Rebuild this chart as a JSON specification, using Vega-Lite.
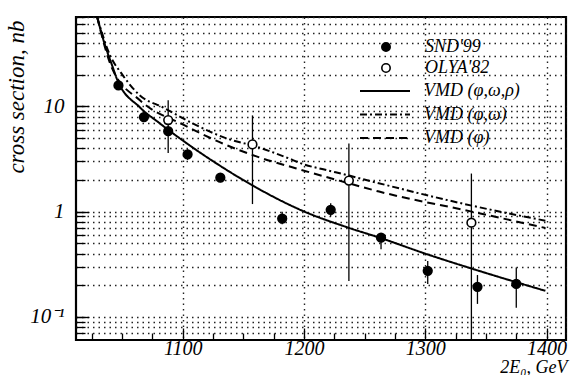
{
  "$schema": "https://vega.github.io/schema/vega-lite/v6.json",
  "width": 490,
  "height": 323,
  "autosize": "none",
  "padding": {"left": 76, "top": 17, "right": 6, "bottom": 35},
  "background": "white",
  "config": {
    "view": {"stroke": "black", "strokeWidth": 2.2},
    "font": "Liberation Serif",
    "axis": {"domain": false, "labelFont": "Liberation Serif", "labelFontStyle": "italic", "labelFontSize": 21, "labelColor": "black", "titleFont": "Liberation Serif", "titleFontStyle": "italic", "titleFontWeight": "normal", "titleFontSize": 22, "titleColor": "black", "tickColor": "black", "tickWidth": 1.3, "gridColor": "#222", "gridDash": [1.5, 4], "gridWidth": 1.4},
    "legend": {"labelFont": "Liberation Serif", "labelFontStyle": "italic", "labelFontSize": 18, "labelColor": "black", "title": null}
  },
  "resolve": {"axis": {"x": "independent", "y": "independent"}},
  "datasets": {
    "curves": [
      {"model": "VMD (φ,ω,ρ)", "x": 1029.5, "y": 70},
      {"model": "VMD (φ,ω,ρ)", "x": 1035.9, "y": 38.1},
      {"model": "VMD (φ,ω,ρ)", "x": 1041.7, "y": 24.6},
      {"model": "VMD (φ,ω,ρ)", "x": 1045.8, "y": 18.1},
      {"model": "VMD (φ,ω,ρ)", "x": 1064.7, "y": 9.78},
      {"model": "VMD (φ,ω,ρ)", "x": 1081.1, "y": 6.89},
      {"model": "VMD (φ,ω,ρ)", "x": 1105.8, "y": 4.25},
      {"model": "VMD (φ,ω,ρ)", "x": 1132.9, "y": 2.63},
      {"model": "VMD (φ,ω,ρ)", "x": 1159.2, "y": 1.73},
      {"model": "VMD (φ,ω,ρ)", "x": 1198.6, "y": 1.02},
      {"model": "VMD (φ,ω,ρ)", "x": 1237.2, "y": 0.70},
      {"model": "VMD (φ,ω,ρ)", "x": 1263.5, "y": 0.56},
      {"model": "VMD (φ,ω,ρ)", "x": 1299.7, "y": 0.40},
      {"model": "VMD (φ,ω,ρ)", "x": 1339.9, "y": 0.284},
      {"model": "VMD (φ,ω,ρ)", "x": 1399, "y": 0.177},
      {"model": "VMD (φ,ω)", "x": 1029.5, "y": 70},
      {"model": "VMD (φ,ω)", "x": 1040, "y": 30.6},
      {"model": "VMD (φ,ω)", "x": 1049.9, "y": 20.2},
      {"model": "VMD (φ,ω)", "x": 1064.7, "y": 12.7},
      {"model": "VMD (φ,ω)", "x": 1083.6, "y": 9.78},
      {"model": "VMD (φ,ω)", "x": 1111.5, "y": 6.59},
      {"model": "VMD (φ,ω)", "x": 1138.6, "y": 4.85},
      {"model": "VMD (φ,ω)", "x": 1157.5, "y": 4.25},
      {"model": "VMD (φ,ω)", "x": 1185.5, "y": 3.27},
      {"model": "VMD (φ,ω)", "x": 1200.2, "y": 2.8},
      {"model": "VMD (φ,ω)", "x": 1216.7, "y": 2.51},
      {"model": "VMD (φ,ω)", "x": 1237.2, "y": 2.2},
      {"model": "VMD (φ,ω)", "x": 1259.4, "y": 1.89},
      {"model": "VMD (φ,ω)", "x": 1338.3, "y": 1.14},
      {"model": "VMD (φ,ω)", "x": 1399, "y": 0.82},
      {"model": "VMD (φ)", "x": 1029.5, "y": 70},
      {"model": "VMD (φ)", "x": 1041.7, "y": 23.0},
      {"model": "VMD (φ)", "x": 1064.7, "y": 11.4},
      {"model": "VMD (φ)", "x": 1101.6, "y": 6.59},
      {"model": "VMD (φ)", "x": 1132.9, "y": 4.44},
      {"model": "VMD (φ)", "x": 1163.3, "y": 3.27},
      {"model": "VMD (φ)", "x": 1193.7, "y": 2.57},
      {"model": "VMD (φ)", "x": 1229, "y": 1.97},
      {"model": "VMD (φ)", "x": 1261.9, "y": 1.55},
      {"model": "VMD (φ)", "x": 1338.3, "y": 1.0},
      {"model": "VMD (φ)", "x": 1399, "y": 0.7}
    ],
    "errors": [
      {"x": 1047, "lo": 14.5, "hi": 17.5},
      {"x": 1068, "lo": 7.1, "hi": 8.7},
      {"x": 1088, "lo": 3.6, "hi": 11.4},
      {"x": 1104, "lo": 3.1, "hi": 3.9},
      {"x": 1131, "lo": 1.9, "hi": 2.3},
      {"x": 1182, "lo": 0.76, "hi": 1.0},
      {"x": 1222, "lo": 0.9, "hi": 1.2},
      {"x": 1263.5, "lo": 0.44, "hi": 0.62},
      {"x": 1302, "lo": 0.205, "hi": 0.34},
      {"x": 1343, "lo": 0.133, "hi": 0.25},
      {"x": 1375, "lo": 0.122, "hi": 0.294},
      {"x": 1157.5, "lo": 1.18, "hi": 8.2},
      {"x": 1237, "lo": 0.22, "hi": 4.44},
      {"x": 1338, "lo": 0.0605, "hi": 2.3}
    ],
    "points": [
      {"set": "SND'99", "x": 1047, "y": 15.8},
      {"set": "SND'99", "x": 1068, "y": 7.9},
      {"set": "SND'99", "x": 1088, "y": 5.8},
      {"set": "SND'99", "x": 1104, "y": 3.5},
      {"set": "SND'99", "x": 1131, "y": 2.1},
      {"set": "SND'99", "x": 1182, "y": 0.86},
      {"set": "SND'99", "x": 1222, "y": 1.04},
      {"set": "SND'99", "x": 1263.5, "y": 0.565},
      {"set": "SND'99", "x": 1302, "y": 0.274},
      {"set": "SND'99", "x": 1343, "y": 0.193},
      {"set": "SND'99", "x": 1375, "y": 0.206},
      {"set": "OLYA'82", "x": 1088, "y": 7.4},
      {"set": "OLYA'82", "x": 1157.5, "y": 4.35},
      {"set": "OLYA'82", "x": 1237, "y": 1.97},
      {"set": "OLYA'82", "x": 1338, "y": 0.785}
    ]
  },
  "layer": [
    {
      "data": {"name": "curves"},
      "mark": {"type": "line", "color": "black", "strokeWidth": 2, "interpolate": "monotone", "clip": true},
      "encoding": {
        "x": {"field": "x", "type": "quantitative", "scale": {"domain": [1012, 1416], "nice": false, "zero": false},
          "axis": {"orient": "bottom", "title": "2E₀,  GeV", "titleAnchor": "end", "titleAlign": "right", "titleBaseline": "top", "titleX": 491, "titleY": 18, "titleFontSize": 18, "labelOverlap": false, "values": [1100, 1200, 1300, 1400], "format": "d", "labelFontSize": 20, "labelPadding": 10, "grid": true, "tickSize": -12}},
        "y": {"field": "y", "type": "quantitative", "scale": {"type": "log", "domain": [0.0604, 70.5], "nice": false},
          "axis": {"orient": "left", "title": "cross section,  nb", "titleAnchor": "end", "titleX": -48, "titleY": 3, "titleFontSize": 23, "labelOverlap": false, "values": [0.1, 1, 10],
            "labelExpr": "datum.value == 10 ? '10' : datum.value == 1 ? '1' : '10⁻¹'", "labelPadding": 25, "grid": false, "tickSize": -13}},
        "strokeDash": {"field": "model", "type": "nominal", "scale": {"domain": ["VMD (φ,ω,ρ)", "VMD (φ,ω)", "VMD (φ)"], "range": [[1, 0], [7, 3, 2, 3], [8, 5]]},
          "legend": {"orient": "none", "legendX": 283, "legendY": 65, "symbolType": "stroke", "symbolSize": 2500, "symbolStrokeWidth": 2, "symbolStrokeColor": "black", "labelOffset": 13, "rowPadding": 5.5, "clipHeight": 18}},
        "detail": {"field": "model"}
      }
    },
    {
      "data": {"name": "errors"},
      "mark": {"type": "rule", "color": "black", "strokeWidth": 1.3, "clip": true},
      "encoding": {
        "x": {"field": "x", "type": "quantitative",
          "axis": {"orient": "bottom", "title": null, "labels": false, "grid": false, "tickSize": -7, "values": [1025, 1050, 1075, 1125, 1150, 1175, 1225, 1250, 1275, 1325, 1350, 1375]}},
        "y": {"field": "lo", "type": "quantitative",
          "axis": {"orient": "left", "title": null, "labels": false, "grid": true, "tickSize": -9, "values": [0.07, 0.08, 0.09, 0.1, 0.2, 0.3, 0.4, 0.5, 0.6, 0.7, 0.8, 0.9, 1, 2, 3, 4, 5, 6, 7, 8, 9, 10, 20, 30, 40, 50, 60, 70]}},
        "y2": {"field": "hi"}
      }
    },
    {
      "data": {"name": "points"},
      "mark": {"type": "point", "shape": "circle", "filled": true, "stroke": "black", "strokeWidth": 1.6, "size": 75, "opacity": 1},
      "encoding": {
        "x": {"field": "x", "type": "quantitative", "axis": null},
        "y": {"field": "y", "type": "quantitative", "axis": null},
        "fill": {"field": "set", "type": "nominal", "scale": {"domain": ["SND'99", "OLYA'82"], "range": ["black", "white"]},
          "legend": {"orient": "none", "legendX": 301, "legendY": 21, "symbolType": "circle", "symbolSize": 70, "symbolStrokeColor": "black", "symbolStrokeWidth": 1.6, "labelOffset": 30, "rowPadding": 3}}
      }
    }
  ]
}
